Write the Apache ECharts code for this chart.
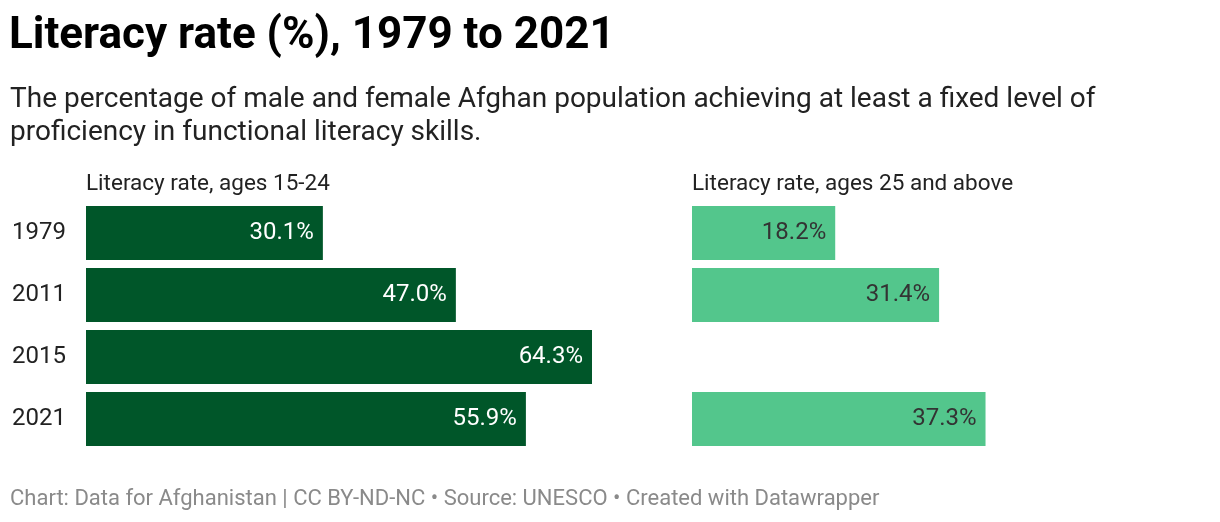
<!DOCTYPE html>
<html>
<head>
<meta charset="utf-8">
<script src="https://cdn.jsdelivr.net/npm/echarts@6/dist/echarts.min.js"></script>
<style>html,body{margin:0;padding:0;background:#fff}#c{width:1220px;height:522px}</style>
</head>
<body>
<div id="c"></div>
<script>
const years = ['1979', '2011', '2015', '2021'];
const youth = [30.1, 47.0, 64.3, 55.9];
const adult = [18.2, 31.4, null, 37.3];
const panelTitles = ['Literacy rate, ages 15-24', 'Literacy rate, ages 25 and above'];
const maxVal = 64.3;

const chart = echarts.init(document.getElementById('c'), null, {renderer: 'canvas'});
const font = 'Roboto';
const fmt = p => p.value == null ? '' : p.value.toFixed(1) + '%';
chart.setOption({
  animation: false,
  backgroundColor: '#ffffff',
  textStyle: {fontFamily: font},
  title: [
    {text: 'Literacy rate (%), 1979 to 2021', left: 4, top: 10,
     textStyle: {fontFamily: font, fontSize: 44, fontWeight: 'bold', color: '#000'}},
    {text: 'The percentage of male and female Afghan population achieving at least a fixed level of\nproficiency in functional literacy skills.', left: 5, top: 78,
     textStyle: {fontFamily: font, fontSize: 28, fontWeight: 'normal', color: '#222', lineHeight: 33}},
    {text: panelTitles[0], left: 81, top: 168,
     textStyle: {fontFamily: font, fontSize: 22.5, fontWeight: 'normal', color: '#222'}},
    {text: panelTitles[1], left: 687, top: 168,
     textStyle: {fontFamily: font, fontSize: 22.5, fontWeight: 'normal', color: '#222'}},
    {text: 'Chart: Data for Afghanistan | CC BY-ND-NC • Source: UNESCO • Created with Datawrapper', left: 5, top: 483,
     textStyle: {fontFamily: font, fontSize: 22, fontWeight: 'normal', color: '#8a8a8a'}}
  ],
  grid: [
    {left: 86, width: 506, top: 202, height: 248},
    {left: 692, width: 506, top: 202, height: 248}
  ],
  xAxis: [
    {gridIndex: 0, type: 'value', min: 0, max: maxVal, show: false},
    {gridIndex: 1, type: 'value', min: 0, max: maxVal, show: false}
  ],
  yAxis: [
    {gridIndex: 0, type: 'category', data: years, inverse: true,
     axisLine: {show: false}, axisTick: {show: false}, splitLine: {show: false},
     axisLabel: {align: 'left', margin: 74, fontFamily: font, fontSize: 24, color: '#222'}},
    {gridIndex: 1, type: 'category', data: years, inverse: true, show: false}
  ],
  series: [
    {type: 'bar', xAxisIndex: 0, yAxisIndex: 0, data: youth, barCategoryGap: '12.9%',
     itemStyle: {color: '#005629'},
     label: {show: true, position: 'insideRight', distance: 9, formatter: fmt,
             fontFamily: font, fontSize: 24, color: '#ffffff'}},
    {type: 'bar', xAxisIndex: 1, yAxisIndex: 1, data: adult, barCategoryGap: '12.9%',
     itemStyle: {color: '#53c68c'},
     label: {show: true, position: 'insideRight', distance: 9, formatter: fmt,
             fontFamily: font, fontSize: 24, color: '#333333'}}
  ]
});
</script>
</body>
</html>
